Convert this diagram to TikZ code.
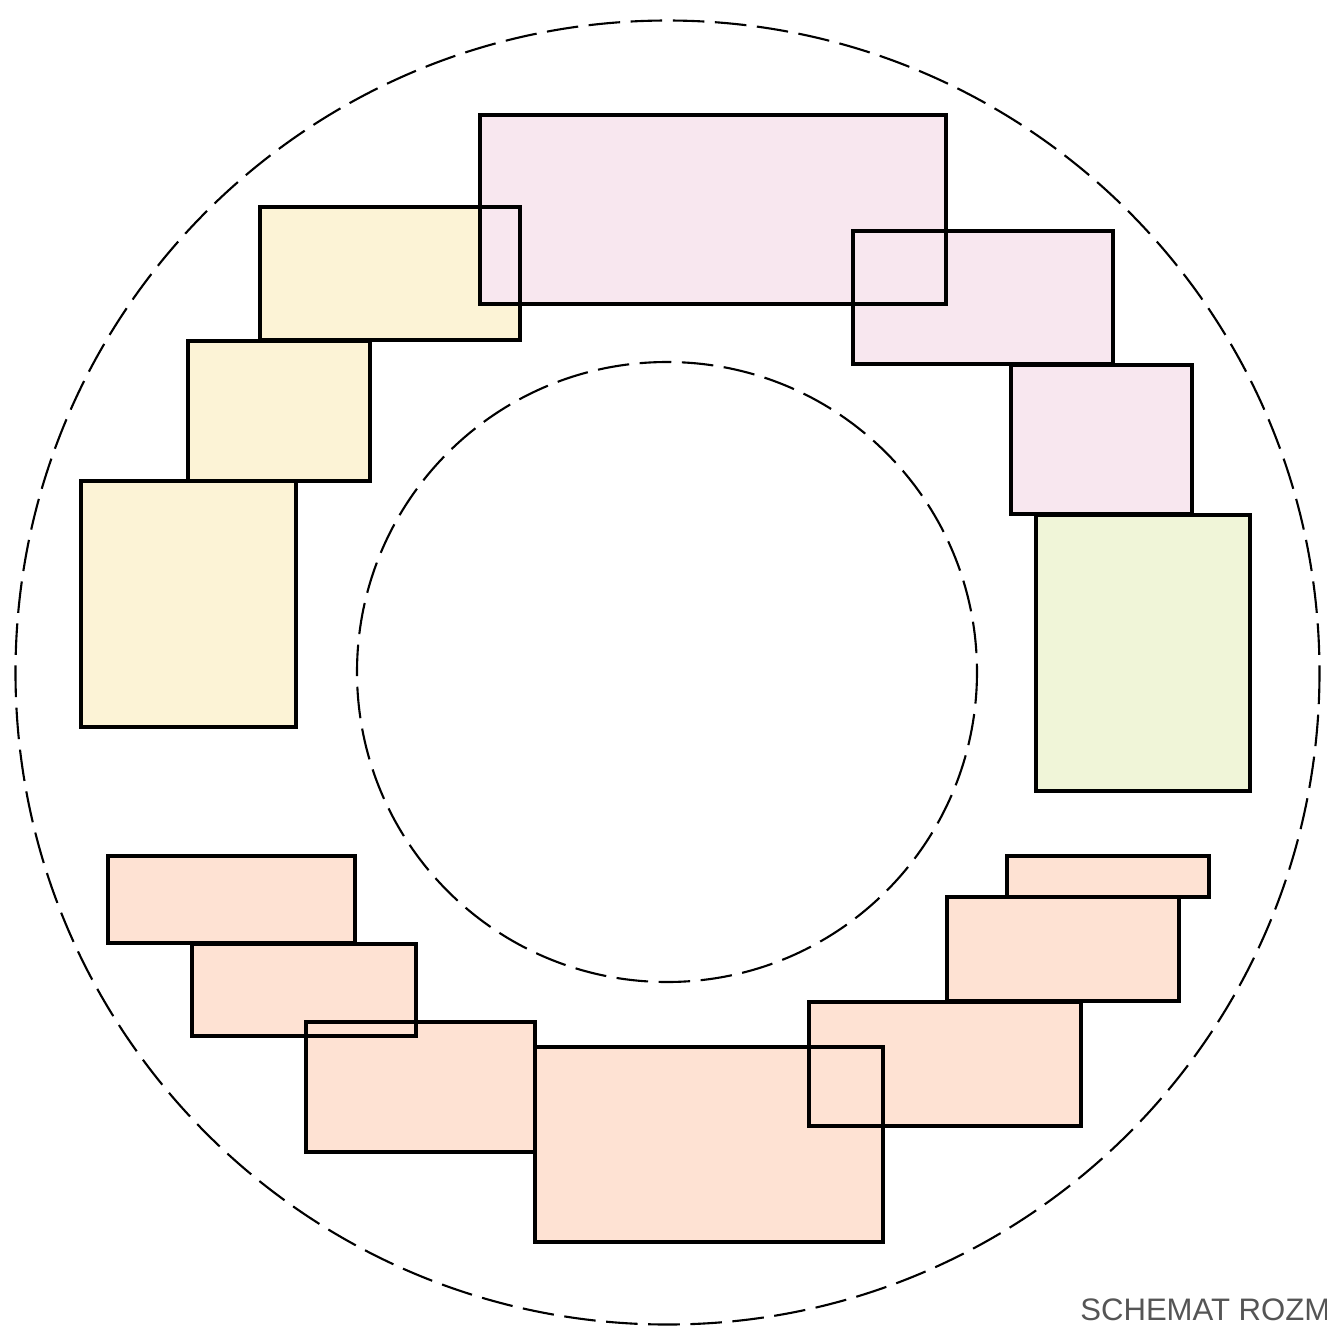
\documentclass[tikz,border=0pt]{standalone}
\usepackage{fontspec}
\setmainfont{Liberation Sans}
\definecolor{cyel}{HTML}{FCF3D6}
\definecolor{cpink}{HTML}{F8E7EF}
\definecolor{cgreen}{HTML}{F0F5D8}
\definecolor{cpeach}{HTML}{FEE2D3}
\definecolor{ctext}{HTML}{555555}
\tikzset{
  ring/.style={draw=black, line width=1.2pt, dash pattern=on 18pt off 6pt},
  blockline/.style={draw=black, line width=2.1pt, line join=miter},
  caption/.style={text=ctext, font=\fontsize{17.7pt}{20pt}\selectfont, anchor=base west, inner sep=0pt}
}
\begin{document}
\begin{tikzpicture}[x=0.02cm,y=-0.02cm]
\useasboundingbox (0,0) rectangle (1327,1330);
\draw[ring] (667.5,672.5) circle (652);
\draw[ring] (667,672) circle (310);
% fills
\foreach \n/\xa/\ya/\xb/\yb/\c in {
  y1/260/207/520/340/cyel,
  y2/188/341/370/481/cyel,
  y3/81/481/296/727/cyel,
  p1/480/115/946/304/cpink,
  p2/853/231/1113/364/cpink,
  p3/1011/365/1192/514/cpink,
  g1/1036/515/1250/791/cgreen,
  o1/108/856/355/943/cpeach,
  o2/192/944/416/1036/cpeach,
  o3/306/1022/535/1152/cpeach,
  o4/535/1047/883/1242/cpeach,
  o5/809/1002/1081/1126/cpeach,
  o6/947/897/1179/1001/cpeach,
  o7/1007/856/1209/897/cpeach}
{
  \fill[\c] (\xa,\ya) rectangle (\xb,\yb);
  \coordinate (\n-a) at (\xa,\ya);
  \coordinate (\n-b) at (\xb,\yb);
}
% outlines
\foreach \n in {y1,y2,y3,p1,p2,p3,g1,o1,o2,o3,o4,o5,o6,o7}
  \draw[blockline] (\n-a) rectangle (\n-b);
\node[caption] (cap) at (1080,1320) {SCHEMAT ROZMIESZCZENIA};
\end{tikzpicture}
\end{document}
